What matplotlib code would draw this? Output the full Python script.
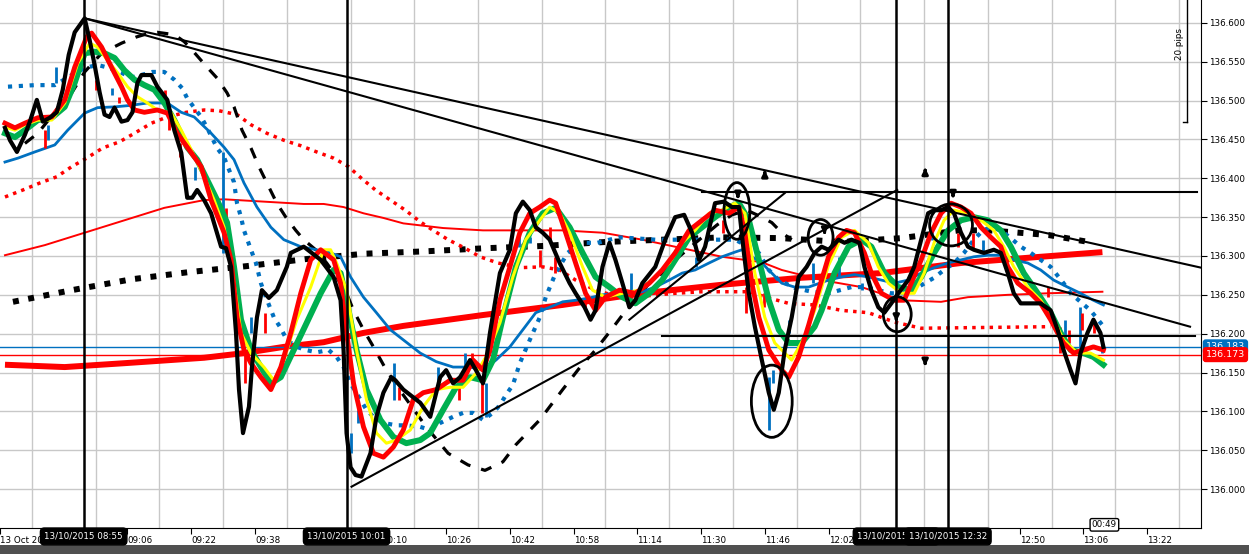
import matplotlib
matplotlib.use('Agg')
import matplotlib.pyplot as plt
from matplotlib.patches import Ellipse, Rectangle
from matplotlib.transforms import blended_transform_factory
import numpy as np

plt.rcParams['font.family'] = ['DejaVu Sans']

# time = minutes since midnight (13/10/2015), price = USDJPY-ish quote
price_line = [(515.25,136.465),(516.5,136.449),(518.25,136.434),(520.25,136.456),(521.5,136.473),(523.25,136.501),
    (524.75,136.473),(526.5,136.478),(528.25,136.485),(529.75,136.514),(531.25,136.559),(532.75,136.588),(534.0,136.597),
    (535.25,136.606),(536.5,136.578),(537.75,136.546),(539.0,136.511),(540.25,136.482),(541.5,136.479),(542.75,136.491),
    (544.5,136.473),(546.0,136.475),(547.25,136.485),(548.5,136.523),(549.5,136.533),(552.0,136.533),(553.5,136.518),
    (556.0,136.501),(557.75,136.462),(559.5,136.433),(561.0,136.375),(562.25,136.375),(563.5,136.385),(565.25,136.372),
    (567.0,136.355),(569.5,136.312),(570.75,136.310),(572.0,136.286),(573.25,136.201),(574.0,136.128),(575.0,136.072),
    (576.5,136.106),(577.25,136.157),(578.5,136.221),(579.75,136.256),(581.5,136.246),(583.5,136.256),(586.0,136.286),
    (587.0,136.304),(590.25,136.312),(594.5,136.295),(597.75,136.273),(599.5,136.243),(600.25,136.179),(601.0,136.072),
    (602.0,136.028),(603.25,136.018),(604.75,136.016),(607.0,136.046),(608.5,136.093),(610.25,136.124),(612.25,136.144),
    (613.25,136.140),(615.25,136.128),(617.75,136.118),(619.5,136.111),(622.0,136.093),(624.5,136.144),(626.0,136.153),
    (627.75,136.136),(629.5,136.144),(632.0,136.166),(633.5,136.153),(635.25,136.136),(637.0,136.201),(639.5,136.278),
    (642.0,136.308),(643.5,136.355),(645.25,136.370),(647.0,136.359),(648.5,136.337),(650.25,136.330),(652.0,136.321),
    (654.5,136.291),(657.0,136.265),(658.5,136.252),(660.75,136.234),(662.25,136.218),(663.5,136.230),(665.25,136.286),
    (667.0,136.317),(668.5,136.295),(670.25,136.265),(672.0,136.234),(673.5,136.243),(675.25,136.265),(678.5,136.286),
    (681.0,136.321),(683.5,136.350),(685.75,136.353),(687.75,136.330),(689.5,136.295),(691.0,136.312),(693.5,136.368),
    (695.75,136.370),(697.75,136.363),(699.5,136.363),(700.75,136.304),(702.0,136.252),(703.5,136.209),(705.25,136.166),
    (707.0,136.124),(708.25,136.102),(709.5,136.124),(711.0,136.179),(712.75,136.221),(714.5,136.273),(716.5,136.286),
    (718.5,136.304),(720.25,136.312),(722.0,136.308),(724.5,136.321),(726.0,136.317),(727.75,136.321),(729.75,136.317),
    (731.0,136.286),(732.75,136.256),(734.5,136.234),(736.0,136.227),(737.75,136.239),(739.5,136.252),(742.0,136.269),
    (743.5,136.286),(745.25,136.321),(747.0,136.355),(748.5,136.359),(750.25,136.359),(752.0,136.363),(753.5,136.355),
    (755.25,136.330),(757.0,136.312),(758.5,136.308),(761.0,136.304),(763.5,136.308),(765.25,136.304),(767.0,136.278),
    (768.5,136.252),(770.25,136.239),(772.75,136.239),(775.25,136.239),(777.75,136.230),(779.5,136.205),(781.0,136.179),
    (782.75,136.153),(784.0,136.136),(785.25,136.175),(787.0,136.201),(788.5,136.218),(790.25,136.201),(791.0,136.183)]

ma_red = [(515.25,136.471),(517.75,136.465),(520.25,136.471),(523.5,136.478),(527.0,136.479),(530.25,136.501),
    (532.75,136.543),(535.75,136.582),(537.0,136.587),(539.5,136.569),(542.0,136.543),(544.5,136.518),(546.0,136.501),
    (547.75,136.488),(550.25,136.485),(553.5,136.488),(556.0,136.484),(558.5,136.458),(562.0,136.433),(564.5,136.415),
    (567.0,136.372),(570.25,136.330),(572.0,136.295),(573.5,136.221),(575.25,136.179),(577.0,136.162),(579.5,136.144),
    (582.0,136.128),(584.5,136.157),(587.0,136.201),(589.5,136.252),(592.0,136.295),(594.5,136.308),(597.75,136.295),
    (599.5,136.265),(601.0,136.201),(602.75,136.136),(605.25,136.080),(607.75,136.046),(610.25,136.041),(612.75,136.054),
    (615.25,136.076),(617.75,136.115),(620.25,136.124),(623.5,136.128),(627.0,136.140),(630.25,136.140),(632.75,136.166),
    (635.25,136.153),(637.0,136.179),(639.5,136.243),(642.0,136.286),(644.5,136.330),(647.0,136.355),(649.5,136.363),
    (652.0,136.372),(653.5,136.368),(656.0,136.330),(658.5,136.291),(661.0,136.252),(663.5,136.230),(666.0,136.247),
    (669.5,136.256),(673.5,136.252),(677.0,136.265),(680.25,136.282),(683.5,136.304),(687.0,136.333),(690.25,136.346),
    (693.5,136.359),(697.0,136.355),(699.5,136.363),(701.0,136.330),(702.75,136.265),(704.5,136.221),(707.0,136.179),
    (710.25,136.153),(712.0,136.144),(714.5,136.170),(717.0,136.211),(719.5,136.256),(722.0,136.299),(724.5,136.324),
    (726.5,136.333),(728.5,136.330),(731.0,136.304),(732.75,136.278),(735.25,136.252),(738.5,136.243),(741.0,136.243),
    (742.75,136.265),(745.25,136.295),(747.75,136.330),(750.25,136.355),(752.75,136.368),(755.25,136.363),(757.75,136.355),
    (760.25,136.337),(762.75,136.324),(765.25,136.312),(767.0,136.286),(769.5,136.265),(772.75,136.252),(775.25,136.239),
    (777.75,136.218),(779.5,136.201),(781.0,136.188),(783.5,136.175),(786.0,136.179),(788.5,136.183),(791.0,136.179)]

ma_yellow = [(515.25,136.466),(517.75,136.462),(520.25,136.469),(523.5,136.475),(527.0,136.475),(530.25,136.497),
    (533.5,136.548),(536.5,136.574),(538.5,136.569),(541.0,136.552),(543.5,136.536),(546.0,136.518),(548.5,136.505),
    (551.0,136.497),(553.5,136.488),(557.0,136.484),(559.5,136.462),(562.0,136.437),(565.25,136.402),(567.75,136.372),
    (570.25,136.337),(572.75,136.265),(574.5,136.201),(577.0,136.175),(580.25,136.157),(582.75,136.140),(585.25,136.166),
    (588.5,136.218),(592.0,136.260),(595.25,136.308),(597.0,136.308),(598.5,136.291),(601.0,136.256),(603.5,136.179),
    (606.0,136.115),(608.5,136.072),(611.0,136.059),(613.5,136.063),(617.0,136.076),(620.25,136.106),(623.5,136.128),
    (627.0,136.131),(630.25,136.131),(633.5,136.149),(636.0,136.170),(639.5,136.214),(642.75,136.273),(646.0,136.321),
    (649.5,136.346),(652.0,136.363),(654.5,136.355),(657.0,136.330),(660.25,136.286),(662.75,136.256),(666.0,136.247),
    (670.25,136.252),(674.5,136.256),(678.5,136.273),(682.0,136.291),(685.25,136.317),(688.5,136.333),(692.0,136.355),
    (695.25,136.359),(698.5,136.368),(701.0,136.355),(703.5,136.278),(706.0,136.221),(708.5,136.188),(712.75,136.166),
    (716.0,136.196),(718.5,136.230),(722.0,136.288),(725.25,136.324),(728.5,136.333),(732.0,136.317),(734.5,136.286),
    (737.0,136.265),(740.25,136.252),(743.5,136.252),(746.0,136.278),(748.5,136.317),(751.0,136.346),(753.5,136.359),
    (757.0,136.355),(760.25,136.346),(763.5,136.333),(766.0,136.312),(768.5,136.286),(772.0,136.260),(775.25,136.243),
    (778.5,136.218),(781.0,136.192),(784.5,136.175),(787.75,136.175),(791.0,136.166)]

ma_green = [(515.25,136.458),(517.75,136.453),(520.25,136.462),(523.5,136.475),(527.0,136.478),(530.25,136.492),
    (532.75,136.523),(535.25,136.561),(537.75,136.563),(540.25,136.561),(542.75,136.555),(545.25,136.539),(547.75,136.527),
    (550.25,136.520),(552.75,136.514),(555.25,136.497),(557.75,136.475),(561.0,136.440),(563.5,136.424),(566.0,136.398),
    (568.5,136.372),(571.0,136.343),(572.75,136.286),(574.5,136.218),(577.0,136.179),(579.5,136.157),(582.0,136.136),
    (584.5,136.144),(587.75,136.179),(591.0,136.214),(594.5,136.252),(597.75,136.282),(599.5,136.278),(601.0,136.243),
    (603.5,136.179),(606.0,136.128),(609.5,136.089),(612.75,136.067),(616.0,136.059),(619.5,136.063),(622.0,136.072),
    (625.25,136.102),(628.5,136.131),(632.0,136.144),(635.25,136.140),(637.75,136.166),(640.25,136.221),(643.5,136.286),
    (647.0,136.330),(650.25,136.355),(653.5,136.362),(657.0,136.337),(660.25,136.304),(663.5,136.273),(667.0,136.260),
    (670.25,136.247),(673.5,136.239),(677.0,136.252),(680.25,136.269),(683.5,136.295),(687.0,136.324),(690.25,136.337),
    (693.5,136.350),(697.0,136.363),(699.5,136.368),(702.0,136.346),(704.5,136.295),(707.0,136.243),(709.5,136.205),
    (712.0,136.188),(715.25,136.188),(718.5,136.209),(720.25,136.230),(723.5,136.278),(727.0,136.312),(730.25,136.321),
    (732.75,136.312),(736.0,136.278),(739.5,136.260),(742.75,136.256),(745.25,136.273),(748.5,136.304),(752.0,136.333),
    (755.25,136.346),(758.5,136.350),(762.0,136.346),(765.25,136.333),(767.75,136.312),(771.0,136.278),(774.5,136.252),
    (777.75,136.227),(780.25,136.201),(782.75,136.179),(786.0,136.175),(788.5,136.170),(791.0,136.160)]

ma_blue = [(515.25,136.421),(518.5,136.426),(522.75,136.434),(527.75,136.443),(531.0,136.462),(535.25,136.484),
    (538.5,136.491),(542.75,136.492),(547.0,136.494),(551.0,136.497),(556.0,136.497),(559.5,136.485),(562.75,136.479),
    (567.0,136.458),(570.25,136.440),(572.75,136.424),(575.25,136.394),(578.5,136.363),(582.0,136.337),(585.25,136.321),
    (589.5,136.312),(593.5,136.308),(597.0,136.304),(599.5,136.299),(602.0,136.273),(605.25,136.247),(608.5,136.227),
    (612.0,136.205),(615.25,136.192),(619.5,136.175),(623.5,136.164),(627.75,136.157),(632.0,136.157),(635.25,136.153),
    (638.5,136.166),(642.0,136.183),(645.25,136.205),(648.5,136.227),(652.0,136.234),(655.25,136.241),(658.5,136.243),
    (662.0,136.246),(665.25,136.250),(668.5,136.252),(672.0,136.252),(675.25,136.254),(678.5,136.260),(682.0,136.269),
    (685.25,136.278),(688.5,136.282),(692.0,136.291),(695.25,136.299),(698.5,136.305),(700.25,136.308),(702.75,136.299),
    (705.25,136.291),(707.75,136.278),(710.25,136.265),(713.5,136.260),(717.0,136.260),(722.0,136.269),(725.25,136.273),
    (728.5,136.276),(732.0,136.273),(735.25,136.269),(738.5,136.265),(742.0,136.269),(745.25,136.278),(748.5,136.285),
    (752.0,136.291),(755.25,136.295),(758.5,136.299),(762.0,136.301),(765.25,136.301),(768.5,136.295),(772.0,136.291),
    (775.25,136.282),(778.5,136.269),(782.0,136.260),(785.25,136.252),(788.5,136.243),(791.0,136.237)]

ma_blue_dotted = [(516.0,136.518),(522.75,136.520),(527.75,136.520),(530.75,136.529),(533.25,136.537),(536.0,136.543),
    (538.5,136.546),(541.5,136.542),(544.0,136.537),(547.0,136.530),(549.5,136.533),(552.25,136.537),(555.25,136.537),
    (557.75,136.527),(559.75,136.516),(561.0,136.503),(562.75,136.491),(564.5,136.479),(566.0,136.465),(568.5,136.439),
    (570.25,136.427),(571.5,136.411),(572.75,136.395),(573.5,136.368),(574.5,136.350),(575.25,136.333),(577.0,136.308),
    (578.25,136.291),(579.5,136.265),(580.75,136.247),(582.75,136.221),(584.5,136.207),(586.0,136.192),(588.5,136.183),
    (590.75,136.179),(593.5,136.176),(596.5,136.179),(598.5,136.170),(600.25,136.157),(602.0,136.136),(604.5,136.115),
    (606.0,136.102),(607.75,136.093),(610.25,136.085),(613.5,136.082),(616.0,136.082),(619.5,136.080),(622.0,136.076),
    (624.5,136.085),(627.75,136.093),(630.25,136.098),(632.75,136.098),(635.25,136.089),(637.75,136.098),(639.5,136.108),
    (641.0,136.121),(642.75,136.134),(644.5,136.162),(647.0,136.192),(649.5,136.221),(651.0,136.247),(653.5,136.278),
    (656.5,136.304),(658.5,136.312),(661.0,136.317),(664.0,136.317),(667.0,136.321),(669.5,136.324),(672.75,136.323),
    (678.5,136.321),(686.0,136.321),(695.75,136.321),(698.5,136.321),(702.0,136.312),(704.5,136.304),(707.0,136.282),
    (709.5,136.269),(713.5,136.259),(717.75,136.254),(722.0,136.252),(727.75,136.260),(731.0,136.260),(734.5,136.256),
    (737.75,136.252),(741.0,136.252),(744.5,136.260),(748.5,136.272),(751.0,136.282),(753.5,136.291),(756.0,136.304),
    (758.5,136.321),(760.75,136.333),(762.75,136.337),(765.25,136.333),(767.75,136.323),(770.25,136.312),(772.75,136.304),
    (775.25,136.295),(777.75,136.286),(781.0,136.265),(782.75,136.252),(785.25,136.241),(787.75,136.230),(790.75,136.211)]

ma_red_dotted = [(515.25,136.376),(519.75,136.385),(524.0,136.394),(528.25,136.402),(532.0,136.415),(535.75,136.426),
    (539.75,136.439),(544.0,136.447),(547.75,136.458),(552.0,136.471),(556.0,136.479),(560.75,136.485),(565.25,136.488),
    (569.0,136.487),(573.5,136.482),(577.0,136.469),(581.0,136.458),(585.25,136.449),(589.5,136.442),(593.5,136.434),
    (597.75,136.426),(601.5,136.415),(604.75,136.400),(608.25,136.385),(612.0,136.372),(615.75,136.359),(619.5,136.344),
    (622.75,136.333),(626.5,136.321),(630.75,136.310),(634.5,136.299),(639.0,136.291),(644.5,136.285),(650.25,136.286),
    (654.5,136.282),(658.5,136.269),(663.5,136.256),(670.25,136.246),(677.0,136.249),(683.5,136.252),(690.25,136.254),
    (702.0,136.254),(707.0,136.246),(712.0,136.239),(718.5,136.237),(725.25,136.230),(732.0,136.227),(738.5,136.215),
    (745.25,136.207),(777.75,136.209)]

ma_red_thin = [(515.25,136.301),(525.25,136.314),(535.25,136.330),(545.25,136.346),(555.25,136.362),(565.25,136.372),
    (570.25,136.373),(580.25,136.370),(590.25,136.367),(595.25,136.367),(600.25,136.363),(605.25,136.355),(610.25,136.349),
    (615.25,136.342),(625.25,136.336),(635.25,136.333),(655.25,136.333),(665.25,136.330),(675.25,136.321),(685.25,136.310),
    (695.25,136.299),(705.25,136.292),(710.25,136.282),(720.25,136.269),(730.25,136.260),(740.25,136.243),(750.25,136.241),
    (757.0,136.247),(767.0,136.250),(777.0,136.252),(790.75,136.254)]

ma_red_slow = [(515.25,136.160),(530.25,136.157),(545.25,136.162),(565.25,136.169),(575.25,136.175),(585.25,136.183),
    (595.25,136.189),(605.25,136.201),(615.25,136.210),(635.25,136.224),(655.25,136.237),(675.25,136.252),(695.25,136.263),
    (715.25,136.272),(735.25,136.278),(755.25,136.291),(775.25,136.299),(790.75,136.305)]

ma_black_dotted = [(517.25,136.241),(532.0,136.256),(547.0,136.270),(561.0,136.279),(576.0,136.287),(590.75,136.296),
    (605.75,136.303),(620.75,136.306),(635.75,136.310),(650.75,136.313),(665.75,136.318),(680.25,136.321),(695.25,136.324),
    (710.25,136.323),(725.25,136.318),(740.25,136.323),(754.75,136.333),(762.25,136.333),(777.25,136.327),(788.5,136.317)]

ma_black_dashed = [(520.25,136.445),(523.5,136.458),(530.25,136.501),(532.0,136.510),(535.25,136.537),(539.5,136.561),
    (544.5,136.574),(548.25,136.582),(551.5,136.587),(553.5,136.588),(557.75,136.585),(560.25,136.576),(562.25,136.565),
    (566.0,136.543),(568.5,136.529),(571.0,136.510),(572.75,136.492),(574.75,136.462),(577.0,136.439),(579.0,136.415),
    (581.0,136.394),(583.5,136.368),(585.75,136.350),(588.25,136.333),(590.25,136.321),(593.25,136.308),(596.0,136.291),
    (598.5,136.273),(601.0,136.252),(602.75,136.230),(605.25,136.205),(607.75,136.183),(611.0,136.153),(615.25,136.121),
    (621.0,136.080),(626.5,136.046),(631.5,136.031),(635.75,136.024),(640.25,136.035),(643.5,136.057),(649.5,136.089),
    (655.25,136.128),(659.5,136.156),(663.5,136.179),(667.75,136.207),(670.25,136.224),(673.5,136.243),(677.0,136.265),
    (680.25,136.278),(683.5,136.295),(687.0,136.310),(690.25,136.324),(694.0,136.340),(697.75,136.353),(701.5,136.359),
    (705.25,136.350),(707.75,136.343),(710.25,136.330),(712.75,136.321)]

# candles: time, high, low, direction (u = up/blue, d = down/red)
candles = [(525.25,136.462,136.439,'d'),(526.0,136.469,136.449,'u'),(528.0,136.543,136.523,'u'),(538.0,136.527,136.514,'d'),
    (542.0,136.516,136.507,'u'),(543.75,136.505,136.497,'d'),(555.5,136.514,136.501,'d'),(556.5,136.482,136.462,'d'),
    (559.25,136.445,136.427,'d'),(563.0,136.415,136.398,'u'),(570.0,136.434,136.304,'u'),(570.75,136.362,136.333,'d'),
    (575.5,136.175,136.136,'d'),(577.0,136.221,136.201,'u'),(580.5,136.227,136.201,'d'),(602.0,136.072,136.046,'u'),
    (603.75,136.102,136.085,'u'),(613.0,136.162,136.115,'u'),(614.25,136.131,136.115,'d'),(624.0,136.157,136.136,'u'),
    (629.25,136.131,136.115,'d'),(630.75,136.175,136.157,'u'),(632.5,136.175,136.157,'d'),(635.0,136.144,136.098,'d'),
    (636.0,136.136,136.093,'u'),(637.0,136.201,136.175,'u'),(644.25,136.330,136.312,'u'),(647.0,136.324,136.317,'u'),
    (649.5,136.308,136.286,'d'),(652.0,136.337,136.321,'d'),(653.25,136.299,136.278,'d'),(660.75,136.243,136.234,'d'),
    (672.5,136.278,136.252,'u'),(688.75,136.299,136.286,'u'),(695.5,136.346,136.330,'d'),(701.25,136.260,136.227,'d'),
    (705.75,136.252,136.234,'d'),(707.0,136.144,136.076,'u'),(708.0,136.153,136.136,'u'),(712.0,136.218,136.201,'u'),
    (718.0,136.291,136.265,'u'),(724.5,136.299,136.273,'u'),(730.5,136.265,136.256,'u'),(748.0,136.337,136.321,'u'),
    (754.5,136.330,136.312,'d'),(758.25,136.330,136.308,'d'),(760.75,136.321,136.304,'u'),(777.0,136.260,136.247,'d'),
    (780.0,136.209,136.175,'d'),(781.25,136.218,136.196,'u'),(782.25,136.205,136.188,'d'),(785.0,136.234,136.175,'u'),
    (785.75,136.227,136.205,'d'),(788.75,136.218,136.201,'d'),(790.75,136.196,136.175,'u')]

# drawn objects
trend_lines = [((535.25,136.606),(815.5,136.285)), ((535.25,136.606),(812.75,136.209)),
    ((602.25,136.003),(739.25,136.385)), ((672.0,136.218),(711.0,136.381)),
    ((690.25,136.382),(814.5,136.382)), ((680.25,136.197),(814.0,136.197))]
marker_times = [535, 601, 739, 752]
ellipses = [(699.0,136.358,6.5,0.073),(720.0,136.324,6.25,0.046),(739.25,136.225,7.0,0.045),
    (707.75,136.113,10.25,0.093),(752.75,136.340,10.75,0.054)]
arrows_up = [(706.0,136.408),(746.25,136.411)]
arrows_down = [(699.25,136.376),(721.0,136.330),(753.25,136.377),(746.25,136.161),(739.0,136.218)]
bid, ask = 136.183, 136.173
pips_bottom, pips_size = 136.473, 0.20
tick_minutes = list(range(514, 816, 16))
hidden_ticks = [530, 594]   # sit under the date boxes

RED, YEL, GRN, BLU = '#ff0000', '#ffff00', '#00b050', '#0070c0'

def xy(pairs):
    return [a for a, b in pairs], [b for a, b in pairs]

fig = plt.figure(figsize=(12.49, 5.54), dpi=100)
ax = fig.add_axes([0, 26/554, 1201/1249, 528/554])
ax.set_xlim(515.25, 815.5)
ax.set_ylim(135.9498, 136.6296)

# grid / ticks
labels = []
for m in tick_minutes:
    if m == tick_minutes[0]:
        labels.append('13 Oct 2015')
    elif m in hidden_ticks:
        labels.append('')
    else:
        labels.append('%02d:%02d' % (m // 60, m % 60))
ax.set_xticks(tick_minutes)
ax.set_xticks(np.arange(514, 816, 8), minor=True)
ax.set_xticklabels(labels, ha='left')
ax.set_yticks(np.arange(136.0, 136.61, 0.05))
ax.set_yticklabels(['%.3f' % v for v in np.arange(136.0, 136.61, 0.05)])
ax.yaxis.tick_right()
ax.grid(True, which='minor', axis='x', color='#c8c8c8', lw=1)
ax.grid(True, which='major', axis='y', color='#c8c8c8', lw=1)
ax.set_axisbelow(True)
ax.tick_params(axis='x', which='major', direction='out', length=4, labelsize=6.3, pad=1.5)
ax.tick_params(axis='x', which='minor', length=0)
ax.tick_params(axis='y', direction='out', length=4, labelsize=6.3, pad=2)
for s in ['left', 'top']:
    ax.spines[s].set_visible(False)

# slow stuff
ax.plot(*xy(ma_red_slow), color=RED, lw=4.3, solid_capstyle='butt', zorder=2)
ax.plot(*xy(ma_red_thin), color=RED, lw=1.4, zorder=2)
ax.plot(*xy(ma_black_dotted), color='k', lw=4.3, ls=(0, (1, 1.6)), dash_capstyle='butt', zorder=2)
ax.plot(*xy(ma_red_dotted), color=RED, lw=2.5, ls=(0, (1, 1.5)), dash_capstyle='butt', zorder=2)
ax.plot(*xy(ma_blue_dotted), color=BLU, lw=3, ls=(0, (1, 1.6)), dash_capstyle='butt', zorder=2)
ax.plot(*xy(ma_black_dashed), color='k', lw=2.3, ls=(0, (3.5, 3.5)), dash_capstyle='butt', zorder=2)
ax.plot(*xy(ma_blue), color=BLU, lw=2, zorder=3)

ax.axhline(bid, color=BLU, lw=1, zorder=2)
ax.axhline(ask, color=RED, lw=1, zorder=2)

for t, hi, lo, d in candles:
    ax.vlines(t, lo, hi, color=BLU if d == 'u' else RED, lw=2, zorder=3)

ax.plot(*xy(ma_green), color=GRN, lw=4.3, zorder=4)
ax.plot(*xy(ma_yellow), color=YEL, lw=2.2, zorder=4)
ax.plot(*xy(ma_red), color=RED, lw=3.5, zorder=4)
ax.plot(*xy(price_line), color='k', lw=3, zorder=5)

# drawings
for (t0, p0), (t1, p1) in trend_lines:
    ax.plot([t0, t1], [p0, p1], color='k', lw=1.5, zorder=6)
for t in marker_times:
    ax.axvline(t, color='k', lw=1.8, zorder=6)
for t, p, w, h in ellipses:
    ax.add_patch(Ellipse((t, p), w, h, fill=False, ec='k', lw=2, zorder=7))
for t, p in arrows_up:
    ax.annotate('', xy=(t, p + 0.006), xytext=(t, p - 0.005),
                arrowprops=dict(arrowstyle='-|>', color='k', lw=2.2, mutation_scale=8), zorder=7)
for t, p in arrows_down:
    ax.annotate('', xy=(t, p - 0.006), xytext=(t, p + 0.005),
                arrowprops=dict(arrowstyle='-|>', color='k', lw=2.2, mutation_scale=8), zorder=7)

# 20 pips bracket
ax.plot([812, 812], [pips_bottom, pips_bottom + pips_size], color='k', lw=1, zorder=6)
ax.plot([811, 812], [pips_bottom, pips_bottom], color='k', lw=1, zorder=6)
ax.text(810.0, pips_bottom + 0.1, '20 pips', rotation=90, fontsize=6.3, ha='center', va='center', zorder=7)

# price labels on right
tr_r = blended_transform_factory(ax.transAxes, ax.transData)
ax.text(1.004, bid, '%.3f' % bid, transform=tr_r, color='white', fontsize=6.8, ha='left', va='center',
        bbox=dict(boxstyle='round,pad=0.25', fc=BLU, ec=BLU), clip_on=False, zorder=10)
ax.text(1.004, ask, '%.3f' % ask, transform=tr_r, color='white', fontsize=6.8, ha='left', va='center',
        bbox=dict(boxstyle='round,pad=0.25', fc=RED, ec=RED), clip_on=False, zorder=11)

# date labels under the vertical markers
tr_b = blended_transform_factory(ax.transData, ax.transAxes)
for t in marker_times:
    ax.text(t, -0.016, '13/10/2015 %02d:%02d' % (t // 60, t % 60), transform=tr_b, color='white',
            fontsize=6.3, ha='center', va='center', clip_on=False, zorder=10,
            bbox=dict(boxstyle='round,pad=0.45', fc='black', ec='black'))
ax.text(791.25, 0.006, '00:49', transform=tr_b, fontsize=6.3, ha='center', va='center', clip_on=False, zorder=10,
        bbox=dict(boxstyle='round,pad=0.2', fc='white', ec='black', lw=1))

fig.add_artist(Rectangle((0, 0), 1, 9/554, transform=fig.transFigure, fc='#505050', ec='none', zorder=0))

fig.savefig('out.png', dpi=100)
